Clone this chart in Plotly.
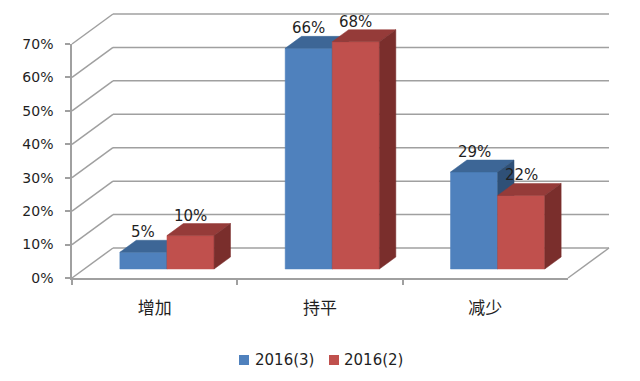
import plotly.graph_objects as go

# ---------------- data ----------------
categories = ["增加", "持平", "减少"]
series_names = ["2016(3)", "2016(2)"]
values_2016_3 = [5, 66, 29]
values_2016_2 = [10, 68, 22]
y_ticks = [0, 10, 20, 30, 40, 50, 60, 70]
y_tick_labels = [f"{t}%" for t in y_ticks]

series_values = [values_2016_3, values_2016_2]
front_colors = ["#4F81BD", "#C0504D"]
top_colors = ["#3D6696", "#953B39"]
side_colors = ["#2F5077", "#7A2E2C"]

# ---------------- geometry (pixels of the front plane) ----------------
W, H = 640, 381
FRONT_LEFT, FRONT_RIGHT, FRONT_BOTTOM, FRONT_TOP = 72, 568, 278, 44
Y_MAX = y_ticks[-1]
n = len(categories)
ux = (FRONT_RIGHT - FRONT_LEFT) / n          # px per category unit
uy = (FRONT_BOTTOM - FRONT_TOP) / Y_MAX      # px per percent
DEPTH_X = 41 / ux                            # full depth offset, data units
DEPTH_Y = 30 / uy
xr = [-0.5 - FRONT_LEFT / ux, n - 0.5 + (W - FRONT_RIGHT) / ux]
yr = [-(H - FRONT_BOTTOM) / uy, Y_MAX + FRONT_TOP / uy]

BW = 0.285          # bar width in category units
D0, D1 = 0.3, 0.7   # bar front / back depth
GRID = "#A0A0A0"
TXT = "#1F1F1F"
LATIN = "DejaVu Sans"
CJK = "Noto Sans CJK SC"


def proj(x, y, d):
    return x + d * DEPTH_X, y + d * DEPTH_Y


def poly(points):
    xs, ys = [], []
    for p in points:
        px, py = proj(*p)
        xs.append(px)
        ys.append(py)
    xs.append(xs[0])
    ys.append(ys[0])
    return xs, ys


fig = go.Figure()

# walls / floor gridlines
gx, gy = [], []
for t in y_ticks:
    for a, b in [((-0.5, t, 0), (-0.5, t, 1)), ((-0.5, t, 1), (n - 0.5, t, 1))]:
        x1, y1 = proj(*a)
        x2, y2 = proj(*b)
        gx += [x1, x2, None]
        gy += [y1, y2, None]
x1, y1 = proj(n - 0.5, 0, 0)
x2, y2 = proj(n - 0.5, 0, 1)
gx += [x1, x2, None]
gy += [y1, y2, None]
fig.add_trace(go.Scatter(x=gx, y=gy, mode="lines", line=dict(color=GRID, width=1.5),
                         showlegend=False, hoverinfo="skip"))

annotations = []
for i in range(n):
    for s in range(len(series_names)):
        v = series_values[s][i]
        xl = i - BW + s * BW
        xh = xl + BW
        faces = [
            ([(xl, 0, D0), (xh, 0, D0), (xh, v, D0), (xl, v, D0)], front_colors[s]),
            ([(xl, v, D0), (xh, v, D0), (xh, v, D1), (xl, v, D1)], top_colors[s]),
            ([(xh, 0, D0), (xh, 0, D1), (xh, v, D1), (xh, v, D0)], side_colors[s]),
        ]
        for pts, col in faces:
            xs, ys = poly(pts)
            fig.add_trace(go.Scatter(x=xs, y=ys, mode="lines", fill="toself", fillcolor=col,
                                     line=dict(color=col, width=0.5), showlegend=False,
                                     hoverinfo="skip"))
        lx, _ = proj((xl + xh) / 2, v, D0)
        _, ly = proj((xl + xh) / 2, v, D1)
        annotations.append(dict(x=lx, y=ly, xref="x", yref="y", text=f"{v}%", showarrow=False,
                                yanchor="bottom", xanchor="center", yshift=-3,
                                font=dict(family=LATIN, size=15, color=TXT)))

# invisible trace to establish the front axes
fig.add_trace(go.Scatter(x=categories, y=[0] * n, xaxis="x2", yaxis="y2", mode="markers",
                         marker=dict(opacity=0), showlegend=False, hoverinfo="skip"))

# legend (keys + real text)
shapes = []
leg_y = 360
leg_items = [(239, 253), (329, 342)]
for s, (kx, tx) in enumerate(leg_items):
    shapes.append(dict(type="rect", xref="paper", yref="paper",
                       x0=kx / W, x1=(kx + 10) / W, y0=1 - (leg_y + 5) / H, y1=1 - (leg_y - 5) / H,
                       fillcolor=front_colors[s], line=dict(width=0)))
    annotations.append(dict(x=tx / W, y=1 - leg_y / H, xref="paper", yref="paper",
                            text=series_names[s], showarrow=False, xanchor="left", yanchor="middle",
                            font=dict(family=LATIN, size=15, color=TXT)))

fig.update_layout(
    width=W, height=H,
    margin=dict(l=0, r=0, t=0, b=0, autoexpand=False),
    paper_bgcolor="white", plot_bgcolor="rgba(0,0,0,0)",
    showlegend=False, hovermode=False,
    xaxis=dict(range=xr, domain=[0, 1], anchor="y", visible=False, fixedrange=True),
    yaxis=dict(range=yr, domain=[0, 1], anchor="x", visible=False, fixedrange=True),
    xaxis2=dict(type="category", categoryorder="array", categoryarray=categories,
                range=[-0.5, n - 0.5], domain=[FRONT_LEFT / W, FRONT_RIGHT / W],
                anchor="y2", showgrid=False, zeroline=False, fixedrange=True,
                showline=True, linecolor=GRID, linewidth=1.5,
                ticks="outside", tickson="boundaries", ticklen=5, tickcolor=GRID, tickwidth=1.5,
                ticklabelstandoff=14, tickfont=dict(family=CJK, size=17, color=TXT)),
    yaxis2=dict(range=[0, Y_MAX], domain=[(H - FRONT_BOTTOM) / H, (H - FRONT_TOP) / H],
                anchor="x2", tickmode="array", tickvals=y_ticks, ticktext=y_tick_labels,
                showgrid=False, zeroline=False, showline=True, linecolor=GRID, linewidth=1.5,
                fixedrange=True,
                ticks="outside", ticklen=5, tickcolor=GRID, tickwidth=1.5,
                ticklabelstandoff=9, tickfont=dict(family=LATIN, size=14, color=TXT)),
    annotations=annotations,
    shapes=shapes,
)

fig.write_html("out.html")
